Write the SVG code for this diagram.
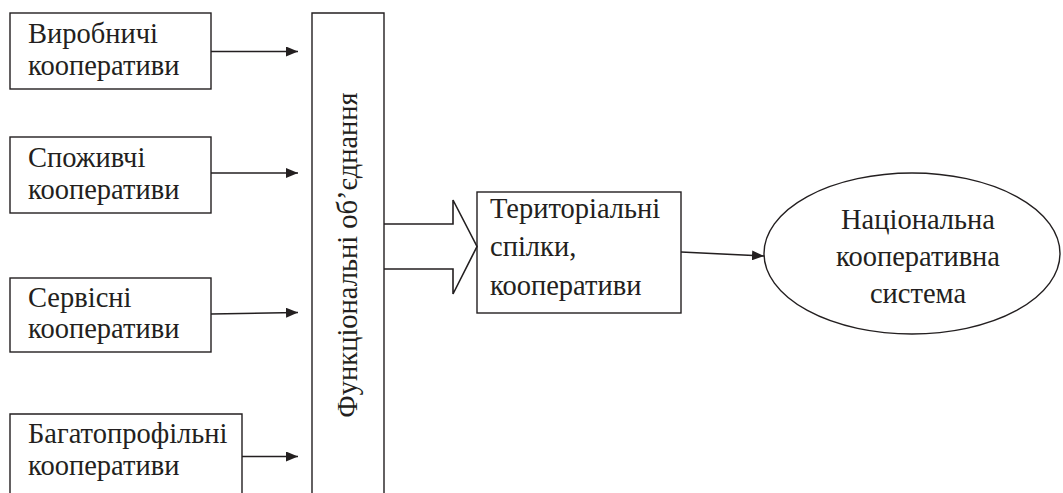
<svg xmlns="http://www.w3.org/2000/svg" width="1063" height="493" viewBox="0 0 1063 493">
  <style>
    .box { fill: #fff; stroke: #231f20; stroke-width: 1.4; }
    .line { fill: none; stroke: #231f20; stroke-width: 1.6; }
    .mid { text-anchor: middle; }
  </style>
  <defs>
    <marker id="arrow" viewBox="0 0 12 10" refX="12" refY="5" markerWidth="12" markerHeight="10" markerUnits="userSpaceOnUse" orient="auto">
      <path d="M0,0 L12,5 L0,10 Z" fill="#231f20"/>
    </marker>
  </defs>
  <rect width="1063" height="493" fill="#fff"/>

  <!-- cooperative types -->
  <g id="node-vyrobnychi">
    <rect class="box" x="10" y="13" width="201" height="76"/>
    <g font-family="Liberation Serif" font-size="28.5" fill="#231f20">
      <text x="28" y="43"><tspan font-family="Liberation Serif" style="font-family:'Liberation Serif'">Виробничі</tspan></text>
      <text x="28" y="75"><tspan font-family="Liberation Serif" style="font-family:'Liberation Serif'">кооперативи</tspan></text>
    </g>
  </g>
  <g id="node-spozhyvchi">
    <rect class="box" x="10" y="137" width="201" height="76"/>
    <g font-family="Liberation Serif" font-size="28.5" fill="#231f20">
      <text x="28" y="167"><tspan font-family="Liberation Serif" style="font-family:'Liberation Serif'">Споживчі</tspan></text>
      <text x="28" y="199"><tspan font-family="Liberation Serif" style="font-family:'Liberation Serif'">кооперативи</tspan></text>
    </g>
  </g>
  <g id="node-servisni">
    <rect class="box" x="10" y="278" width="201" height="74"/>
    <g font-family="Liberation Serif" font-size="28.5" fill="#231f20">
      <text x="28" y="307"><tspan font-family="Liberation Serif" style="font-family:'Liberation Serif'">Сервісні</tspan></text>
      <text x="28" y="338"><tspan font-family="Liberation Serif" style="font-family:'Liberation Serif'">кооперативи</tspan></text>
    </g>
  </g>
  <g id="node-bahatoprofilni">
    <path class="box" d="M10,500 V414 H242 V500"/>
    <g font-family="Liberation Serif" font-size="28.5" fill="#231f20">
      <text x="28" y="443"><tspan font-family="Liberation Serif" style="font-family:'Liberation Serif'">Багатопрофільні</tspan></text>
      <text x="28" y="475"><tspan font-family="Liberation Serif" style="font-family:'Liberation Serif'">кооперативи</tspan></text>
    </g>
  </g>

  <!-- functional associations column -->
  <g id="node-funktsionalni">
    <path class="box" d="M312,500 V13 H384 V500"/>
    <g font-family="Liberation Serif" font-size="28.5" fill="#231f20">
      <text class="mid" transform="translate(357,255) rotate(-90)"><tspan font-family="Liberation Serif" style="font-family:'Liberation Serif'">Функціональні об’єднання</tspan></text>
    </g>
  </g>

  <!-- territorial unions -->
  <g id="node-terytorialni">
    <rect class="box" x="477" y="192" width="204" height="121"/>
    <g font-family="Liberation Serif" font-size="28.5" fill="#231f20">
      <text x="490" y="218"><tspan font-family="Liberation Serif" style="font-family:'Liberation Serif'">Територіальні</tspan></text>
      <text x="490" y="256"><tspan font-family="Liberation Serif" style="font-family:'Liberation Serif'">спілки,</tspan></text>
      <text x="490" y="295"><tspan font-family="Liberation Serif" style="font-family:'Liberation Serif'">кооперативи</tspan></text>
    </g>
  </g>

  <!-- national system -->
  <g id="node-natsionalna">
    <ellipse class="box" cx="912" cy="253.5" rx="148" ry="80.5"/>
    <g font-family="Liberation Serif" font-size="28.5" fill="#231f20">
      <text class="mid" x="918" y="229"><tspan font-family="Liberation Serif" style="font-family:'Liberation Serif'">Національна</tspan></text>
      <text class="mid" x="918" y="266"><tspan font-family="Liberation Serif" style="font-family:'Liberation Serif'">кооперативна</tspan></text>
      <text class="mid" x="918" y="303"><tspan font-family="Liberation Serif" style="font-family:'Liberation Serif'">система</tspan></text>
    </g>
  </g>

  <g id="connectors">
    <line class="line" x1="211" y1="51.5" x2="298" y2="51.5" marker-end="url(#arrow)"/>
    <line class="line" x1="211" y1="173" x2="298" y2="173" marker-end="url(#arrow)"/>
    <line class="line" x1="211" y1="314" x2="298" y2="312.5" marker-end="url(#arrow)"/>
    <line class="line" x1="242" y1="456.5" x2="298" y2="456.5" marker-end="url(#arrow)"/>
    <!-- hollow block arrow into territorial unions -->
    <path class="line" stroke-width="1.4" d="M384,224 H453 V200 L477,246.5 L453,294 V269 H384"/>
    <line class="line" x1="681" y1="252" x2="764" y2="256" marker-end="url(#arrow)"/>
  </g>
</svg>
